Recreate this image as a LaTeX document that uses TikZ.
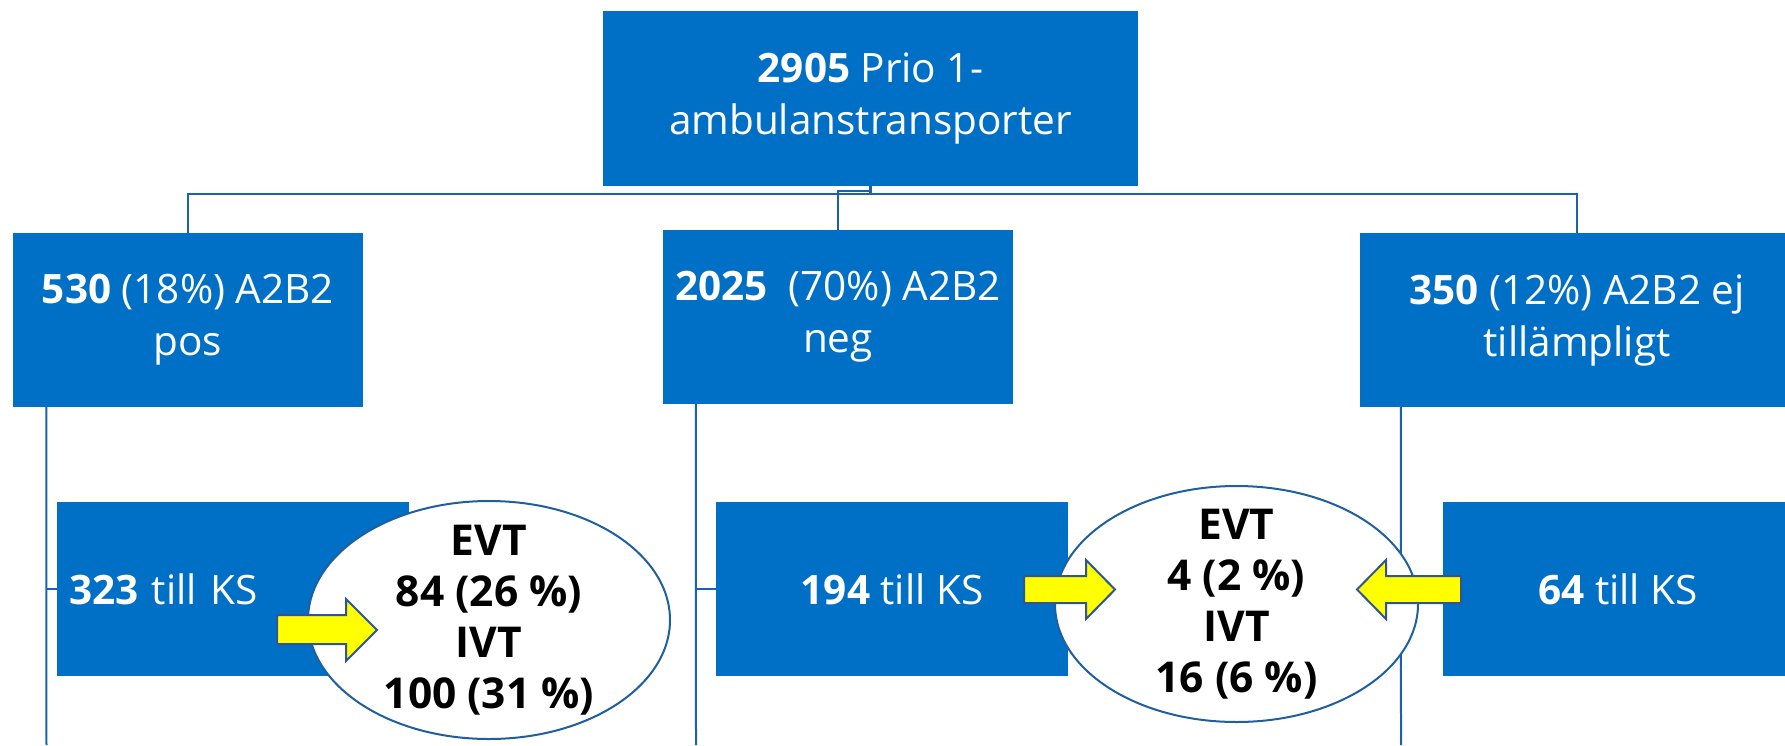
\documentclass[tikz,border=0pt]{standalone}
\usepackage{fontspec}
\setmainfont{Open Sans}
\usetikzlibrary{shapes.geometric}
\definecolor{boxblue}{HTML}{0070C6}
\definecolor{lineblue}{HTML}{1A62B0}
\definecolor{ellblue}{HTML}{1F5F9F}
\definecolor{arrblue}{HTML}{2F5597}
\definecolor{arryellow}{HTML}{FFFF00}
\begin{document}
\begin{tikzpicture}[x=1pt,y=-1pt,
  box/.style={fill=boxblue, inner sep=0pt, text=white, align=center,
    minimum height=174pt, font=\fontsize{40.5}{52}\selectfont},
  conn/.style={draw=lineblue, line width=2.5pt},
  connb/.style={draw=lineblue, line width=2pt},
  res/.style={ellipse, draw=ellblue, line width=2pt, fill=white, inner sep=0pt},
  restext/.style={font=\bfseries\fontsize{42.5}{51}\selectfont, align=center, text=black},
  yarrow/.style={fill=arryellow, draw=arrblue, line width=2pt, line join=miter}]
\useasboundingbox (0,0) rectangle (1785,745);
\clip (0,0) rectangle (1785,745);

% level 1
\node[box, minimum width=535pt, minimum height=175pt] (top) at (870.5,98.5)
  {\textbf{2905} Prio 1-\\ambulanstransporter};

% level 2
\node[box, minimum width=350pt] (pos) at (188,320) {\textbf{530} (18\%) A2B2\\pos};
\node[box, minimum width=350pt] (neg) at (838,317) {\textbf{2025}\ \ (70\%) A2B2\\neg};
\node[box, minimum width=434pt] (na) at (1577,320) {\textbf{350} (12\%) A2B2 ej\\tillämpligt};

% level 3
\node[box, minimum width=352pt, text width=328pt, align=left] (ksa) at (233,589) {\textbf{323} till KS};
\node[box, minimum width=352pt] (ksb) at (892,589) {\textbf{194} till KS};
\node[box, minimum width=350pt] (ksc) at (1618,589) {\textbf{64} till KS};

% connectors level 1 -> 2
\draw[conn] (top.south) -- ++(0,8) -| (pos.north);
\draw[conn] (top.south) -- ++(0,5) -| (neg.north);
\draw[conn] (top.south) -- ++(0,8) -| (na.north);

% connectors level 2 -> 3
\coordinate (la) at ([xshift=33.5pt]pos.south west);
\coordinate (lend) at (46.5,745);
\draw[connb] (la) -- (lend);
\draw[connb] (la |- ksa.west) -- (ksa.west);

\coordinate (ma) at ([xshift=33pt]neg.south west);
\coordinate (mend) at (696,745);
\draw[connb] (ma) -- (mend);
\draw[connb] (ma |- ksb.west) -- (ksb.west);

\coordinate (ra) at ([xshift=41pt]na.south west);
\coordinate (rend) at (1401,745);
\draw[connb] (ra) -- (rend);
\draw[connb] (ra |- ksc.west) -- (ksc.west);

% result ellipses
\node[res, minimum width=362pt, minimum height=238pt,
  label={[restext]center:EVT\\84 (26 \%)\\IVT\\100 (31 \%)}] (e1) at (489,620) {};
\node[res, minimum width=363pt, minimum height=236pt,
  label={[restext]center:EVT\\4 (2 \%)\\IVT\\16 (6 \%)}] (e2) at (1236.5,604) {};

% block arrows
\draw[yarrow] (277,615) -- (346,615) -- (346,599) -- (377,630) -- (346,661) -- (346,644) -- (277,644) -- cycle;
\draw[yarrow] (1024,576) -- (1086,576) -- (1086,560) -- (1115,589.5) -- (1086,619) -- (1086,603) -- (1024,603) -- cycle;
\draw[yarrow] (1461,576) -- (1386,576) -- (1386,560) -- (1357,589.5) -- (1386,619) -- (1386,603) -- (1461,603) -- cycle;
\end{tikzpicture}
\end{document}
